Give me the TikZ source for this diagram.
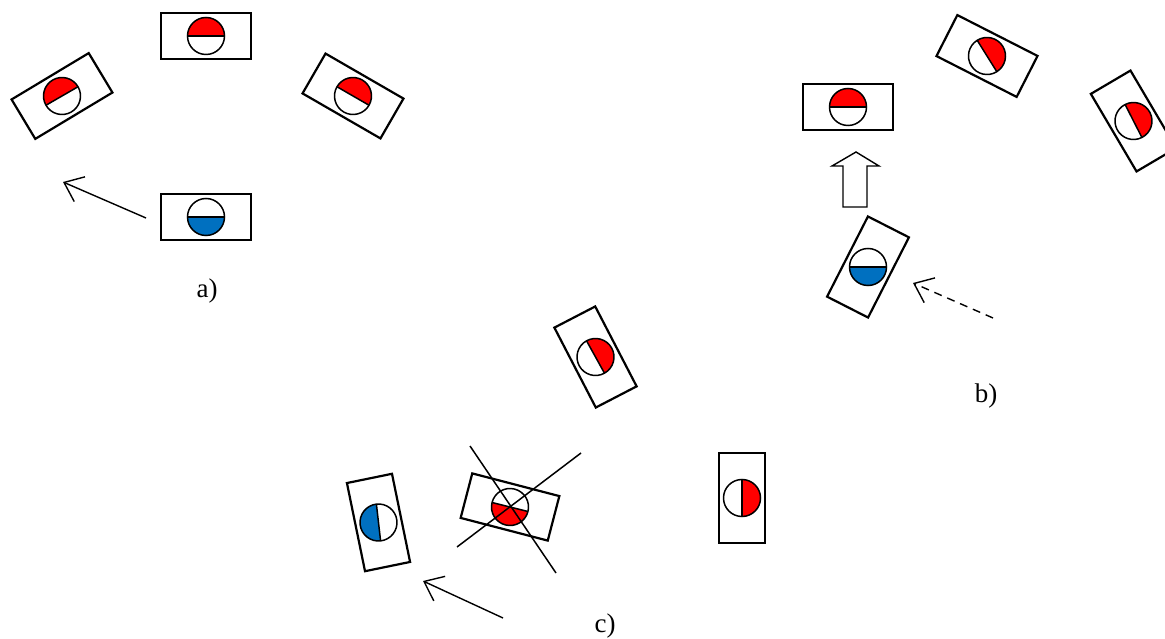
\documentclass[tikz,border=0pt]{standalone}
\usepackage{fontspec}
\setmainfont{Liberation Serif}
\usetikzlibrary{arrows.meta,calc}
\definecolor{sred}{RGB}{255,0,0}
\definecolor{sblue}{RGB}{0,112,192}
\tikzset{
  unitbox/.style={draw, line width=2.2pt, fill=white, minimum width=90pt, minimum height=46pt, inner sep=0pt, outer sep=0pt},
  thinarrow/.style={line width=1.4pt, -{Straight Barb[length=17pt,width=27pt]}},
  lbl/.style={font=\fontsize{27}{30}\selectfont, anchor=base, inner sep=0pt},
  crossline/.style={line width=1.5pt}
}
\newcommand{\sensorhalf}[3]{%
  \begin{scope}[shift={(#1)}, rotate=#2]
    \fill[white] (0,0) circle[radius=18.5];
    \fill[#3] (0,-18.5) arc[start angle=-90, end angle=90, radius=18.5] -- cycle;
    \draw[line width=1.5pt] (0,-18.5) -- (0,18.5);
    \draw[line width=1.5pt] (0,0) circle[radius=18.5];
  \end{scope}}
\begin{document}
\begin{tikzpicture}[x=1pt,y=1pt]
\useasboundingbox (0,0) rectangle (1165,638);
% ---- a) ----
\node[unitbox] (a1) at (206,602) {};
\sensorhalf{a1.center}{90}{sred}
\node[unitbox, rotate=31] (a2) at (62,542) {};
\sensorhalf{a2.center}{120}{sred}
\node[unitbox, rotate=-30] (a3) at (353,542) {};
\sensorhalf{a3.center}{60}{sred}
\node[unitbox] (a4) at (206,421) {};
\sensorhalf{a4.center}{-90}{sblue}
\coordinate (aS) at (146,420);
\coordinate (aE) at (63,456);
\draw[thinarrow] (aS) -- (aE);
\node[lbl] (la) at (207,340) {a)};
% ---- b) ----
\node[unitbox] (b1) at (848,531) {};
\sensorhalf{b1.center}{90}{sred}
\node[unitbox, rotate=-27] (b2) at (987,582) {};
\sensorhalf{b2.center}{32}{sred}
\node[unitbox, rotate=-59.5] (b3) at (1133.5,517) {};
\sensorhalf{b3.center}{27}{sred}
\node[unitbox, rotate=63] (b4) at (868,371) {};
\sensorhalf{b4.center}{-90}{sblue}
\draw[line width=1.4pt, fill=white, line join=miter]
  (843,431) -- (867,431) -- (867,472) -- (879,472) -- (856,486) -- (832,472) -- (843,472) -- cycle;
\coordinate (bS) at (993,320);
\coordinate (bE) at (913,355);
\draw[thinarrow, dash pattern=on 8pt off 6pt] (bS) -- (bE);
\node[lbl] (lb) at (986,235) {b)};
% ---- c) ----
\node[unitbox, rotate=-62.6] (c1) at (595.5,281) {};
\sensorhalf{c1.center}{29}{sred}
\node[unitbox, rotate=90] (c2) at (742,140) {};
\sensorhalf{c2.center}{0}{sred}
\node[unitbox, rotate=-14.6] (c3) at (510,131) {};
\sensorhalf{c3.center}{-104}{sred}
\coordinate (x1a) at (470,192);
\coordinate (x1b) at (556,65);
\coordinate (x2a) at (581,185);
\coordinate (x2b) at (457,91);
\draw[crossline] (x1a) -- (x1b);
\draw[crossline] (x2a) -- (x2b);
\node[unitbox, rotate=101.6] (c4) at (378.5,115.5) {};
\sensorhalf{c4.center}{186.5}{sblue}
\coordinate (cS) at (503,20);
\coordinate (cE) at (423,57);
\draw[thinarrow] (cS) -- (cE);
\node[lbl] (lc) at (605,6) {c)};
\end{tikzpicture}
\end{document}
